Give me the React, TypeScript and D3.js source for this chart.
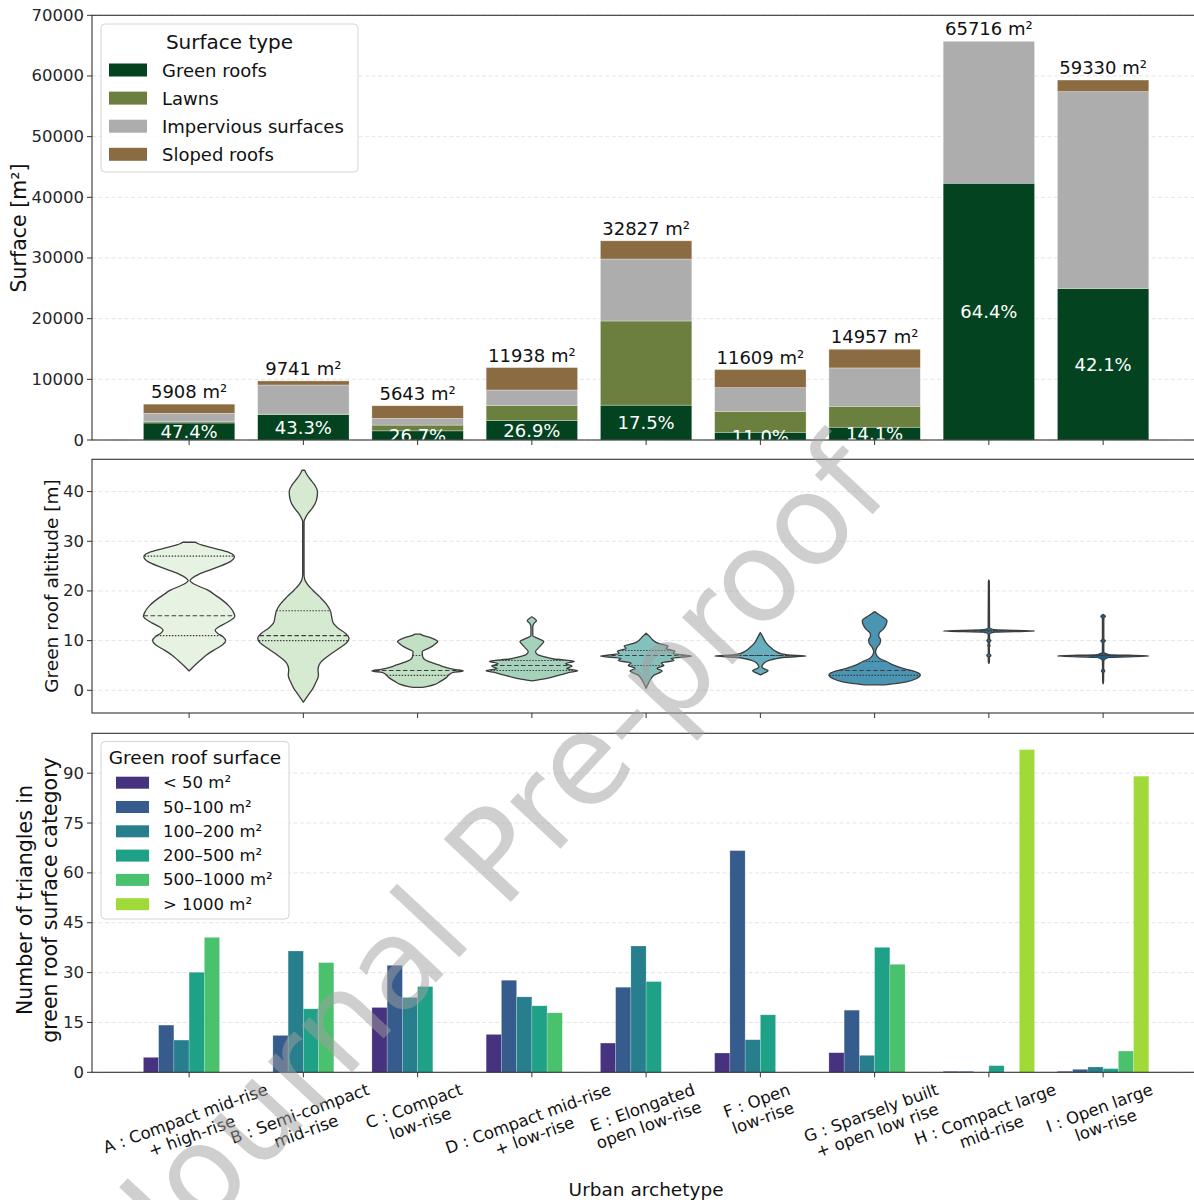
import React from 'react';
import * as d3 from 'd3';

// ---- categories -------------------------------------------------------
const archetypeLabels: string[][] = [
  ['A : Compact mid-rise', '+ high-rise'],
  ['B : Semi-compact', 'mid-rise'],
  ['C : Compact', 'low-rise'],
  ['D : Compact mid-rise', '+ low-rise'],
  ['E : Elongated', 'open low-rise'],
  ['F : Open', 'low-rise'],
  ['G : Sparsely built', '+ open low rise'],
  ['H : Compact large', 'mid-rise'],
  ['I : Open large', 'low-rise'],
];

// ---- panel 1: surface composition (m²) -------------------------------
const surfaceTypes = ['Green roofs', 'Lawns', 'Impervious surfaces', 'Sloped roofs'];
const surfaceColors = ['#03431f', '#6b803e', '#adadad', '#8b6c42'];
const greenRoofArea = [2800, 4218, 1507, 3211, 5745, 1277, 2109, 42321, 24978];
const lawnArea = [200, 50, 950, 2500, 13870, 3450, 3450, 0, 0];
const imperviousArea = [1400, 4800, 1100, 2530, 10220, 3900, 6320, 23395, 32440];
const slopedRoofArea = [1508, 673, 2086, 3697, 2992, 2982, 3078, 0, 1912];
const surfaceTicks = [0, 10000, 20000, 30000, 40000, 50000, 60000, 70000];

// ---- panel 2: green roof altitude distributions ----------------------
// [altitude (m), relative half-width]
const altitudeProfileA: [number, number][] = [[3.9, 0], [5.0, 0.12], [6.0, 0.24], [7.1, 0.38], [8.3, 0.58], [9.2, 0.74], [10.0, 0.8], [10.8, 0.74], [11.5, 0.62], [12.1, 0.57], [12.8, 0.65], [13.7, 0.84], [14.9, 1.0], [15.9, 0.96], [17.0, 0.87], [18.2, 0.72], [19.3, 0.55], [20.2, 0.4], [21.0, 0.2], [21.6, 0.07], [22.1, 0.02], [22.6, 0.07], [23.3, 0.2], [24.2, 0.45], [24.8, 0.62], [25.9, 0.9], [26.9, 0.99], [27.9, 0.83], [28.8, 0.45], [29.5, 0.2], [29.8, 0.14]];
const altitudeProfileB: [number, number][] = [[-2.4, 0], [-0.9, 0.11], [0.4, 0.21], [1.7, 0.28], [3.0, 0.33], [4.2, 0.32], [5.5, 0.37], [6.4, 0.47], [7.3, 0.6], [8.5, 0.79], [9.6, 0.95], [10.5, 1.0], [11.4, 0.93], [12.6, 0.75], [13.6, 0.65], [14.8, 0.62], [16.0, 0.59], [17.4, 0.5], [18.8, 0.36], [20.2, 0.2], [21.3, 0.09], [22.3, 0.03], [23.3, 0.015], [34.0, 0.015], [34.8, 0.05], [35.7, 0.11], [36.7, 0.2], [38.4, 0.29], [40.0, 0.31], [41.3, 0.25], [42.6, 0.14], [43.7, 0.06], [44.3, 0.03]];
const altitudeProfileC: [number, number][] = [[0.6, 0.1], [0.8, 0.22], [1.2, 0.38], [1.8, 0.5], [2.5, 0.62], [3.2, 0.7], [3.6, 0.78], [3.9, 1.0], [4.2, 0.8], [4.6, 0.62], [5.1, 0.46], [5.6, 0.3], [6.1, 0.17], [6.8, 0.11], [7.8, 0.1], [8.3, 0.2], [8.8, 0.31], [9.4, 0.4], [9.8, 0.44], [10.3, 0.36], [10.7, 0.25], [11.1, 0.1], [11.3, 0.06]];
const altitudeProfileD: [number, number][] = [[1.9, 0], [2.4, 0.33], [3.1, 0.62], [3.6, 0.82], [3.95, 1.0], [4.35, 0.76], [4.9, 0.88], [5.35, 0.74], [5.85, 0.93], [6.3, 0.48], [6.8, 0.26], [7.2, 0.12], [7.8, 0.08], [8.5, 0.14], [9.1, 0.2], [9.8, 0.26], [10.5, 0.12], [11.0, 0.02], [12.8, 0.02], [13.5, 0.05], [14.0, 0.1], [14.5, 0.05], [14.8, 0]];
const altitudeProfileE: [number, number][] = [[0.4, 0], [1.2, 0.04], [2.1, 0.09], [3.1, 0.18], [3.9, 0.35], [4.4, 0.24], [5.0, 0.39], [5.5, 0.33], [6.0, 0.61], [6.4, 0.55], [6.9, 1.0], [7.4, 0.59], [7.9, 0.63], [8.4, 0.44], [8.9, 0.48], [9.5, 0.26], [10.1, 0.15], [10.8, 0.08], [11.5, 0]];
const altitudeProfileF: [number, number][] = [[3.1, 0], [3.5, 0.09], [3.95, 0.17], [4.4, 0.07], [4.7, 0.03], [5.1, 0.05], [5.8, 0.13], [6.3, 0.31], [6.65, 0.55], [6.9, 1.0], [7.15, 0.6], [7.4, 0.45], [7.8, 0.35], [8.5, 0.24], [9.5, 0.13], [10.6, 0.06], [11.3, 0.02], [11.6, 0]];
const altitudeProfileG: [number, number][] = [[1.1, 0.22], [1.4, 0.5], [1.7, 0.7], [2.4, 0.92], [3.1, 1.0], [3.9, 0.84], [4.4, 0.62], [5.1, 0.4], [5.8, 0.26], [6.4, 0.11], [7.1, 0.04], [7.8, 0.02], [8.6, 0.05], [9.5, 0.12], [10.2, 0.13], [10.9, 0.09], [11.5, 0.1], [12.2, 0.18], [13.2, 0.25], [14.0, 0.27], [14.8, 0.17], [15.5, 0.05], [15.8, 0.02]];
const altitudeProfileH: [number, number][] = [[5.4, 0], [5.8, 0.012], [6.6, 0.012], [7.0, 0.045], [7.4, 0.012], [8.7, 0.012], [9.0, 0.025], [9.3, 0.012], [9.7, 0.015], [10.0, 0.045], [10.3, 0.015], [11.3, 0.015], [11.7, 0.12], [11.95, 1.0], [12.2, 0.12], [12.6, 0.015], [21.8, 0.01], [22.2, 0]];
const altitudeProfileI: [number, number][] = [[1.3, 0], [1.8, 0.01], [3.5, 0.012], [3.9, 0.035], [4.3, 0.012], [5.9, 0.015], [6.6, 0.12], [6.9, 1.0], [7.2, 0.12], [7.7, 0.015], [9.6, 0.015], [9.95, 0.05], [10.3, 0.015], [14.5, 0.015], [14.9, 0.05], [15.3, 0]];
const altitudeProfiles = [altitudeProfileA, altitudeProfileB, altitudeProfileC, altitudeProfileD, altitudeProfileE, altitudeProfileF, altitudeProfileG, altitudeProfileH, altitudeProfileI];
// [first quartile, median, third quartile]
const altitudeQuartiles: number[][] = [[11, 15, 27], [10, 11, 16], [3, 4, 7], [4, 5, 6], [5, 7, 8], [7, 7, 7], [3, 4, 5.8], [12, 12, 12], [7, 7, 7]];
const altitudeTicks = [0, 10, 20, 30, 40];

// ---- panel 3: triangle counts per green roof surface class -----------
const roofClasses = ['< 50 m²', '50–100 m²', '100–200 m²', '200–500 m²', '500–1000 m²', '> 1000 m²'];
const roofClassColors = ['#46327e', '#365c8d', '#277f8e', '#1fa187', '#4ac16d', '#a0da39'];
const countsBelow50 = [4.5, 0, 19.5, 11.4, 8.8, 5.8, 5.9, 0.3, 0.3];
const counts50to100 = [14.2, 11.1, 32.2, 27.7, 25.6, 66.7, 18.7, 0.3, 0.9];
const counts100to200 = [9.7, 36.5, 22.5, 22.7, 38.0, 9.8, 5.1, 0, 1.6];
const counts200to500 = [30.1, 19.1, 25.8, 20.0, 27.3, 17.3, 37.6, 2.0, 1.1];
const counts500to1000 = [40.6, 33.0, 0, 17.9, 0, 0, 32.5, 0, 6.4];
const countsAbove1000 = [0, 0, 0, 0, 0, 0, 0, 97.1, 89.1];
const countTicks = [0, 15, 30, 45, 60, 75, 90];

const FONT = '"DejaVu Sans", "Liberation Sans", sans-serif';
const INK = '#262626';
const SPINE = '#333333';
const GRID = '#e2e2e2';

const measureCtx = typeof document !== 'undefined' ? document.createElement('canvas').getContext('2d') : null;
function textWidth(s: string, fs: number) {
  if (!measureCtx) return s.length * fs * 0.58;
  measureCtx.font = `${fs}px "DejaVu Sans"`;
  return measureCtx.measureText(s).width;
}

function widthAt(profile: [number, number][], v: number) {
  for (let i = 1; i < profile.length; i++) {
    const [a0, w0] = profile[i - 1];
    const [a1, w1] = profile[i];
    if (v >= a0 && v <= a1) return w0 + ((v - a0) / (a1 - a0 || 1)) * (w1 - w0);
  }
  return 0;
}

export default function App() {
  const W = 1194;
  const H = 1200;
  const n = archetypeLabels.length;
  const left = 92;
  const step = 114.25;
  const x = d3.scaleLinear().domain([-0.85, n - 1 + 0.85]).range([left, left + (n - 1 + 1.7) * step]);
  const right = x.range()[1];
  const band = x(1) - x(0);
  const idx = d3.range(n);

  const ySurf = d3.scaleLinear().domain([0, 70000]).range([440, 15.3]);
  const yAlt = d3.scaleLinear().domain([-4.57, 46.5]).range([713, 459.3]);
  const yCnt = d3.scaleLinear().domain([0, 102]).range([1072.3, 733.3]);

  // stacked surfaces
  const surfaceRows = idx.map((i) => ({
    g: greenRoofArea[i], l: lawnArea[i], p: imperviousArea[i], s: slopedRoofArea[i],
  }));
  const stack = d3.stack<any>().keys(['g', 'l', 'p', 's'])(surfaceRows);
  const totals = surfaceRows.map((r) => r.g + r.l + r.p + r.s);

  // viridis-coloured grouped counts
  const countSeries = [countsBelow50, counts50to100, counts100to200, counts200to500, counts500to1000, countsAbove1000];
  const sub = d3.scaleBand<number>().domain(d3.range(countSeries.length)).range([-0.4 * band, 0.4 * band]).padding(0);

  // violin palette: GnBu, desaturated
  const violinColors = idx.map((i) => {
    const c = d3.hsl(d3.interpolateGnBu((i + 1) / 10));
    c.s *= 0.75;
    return c.formatHex();
  });
  const halfMax = 0.4 * band;
  const violinPath = (cx: number, prof: [number, number][]) =>
    d3.area<[number, number]>()
      .y((d) => yAlt(d[0]))
      .x0((d) => cx - d[1] * halfMax)
      .x1((d) => cx + d[1] * halfMax)
      .curve(d3.curveMonotoneY)(prof.slice().reverse()) || '';

  const tickFs = 16.5;

  const yAxis = (scale: d3.ScaleLinear<number, number>, ticks: number[], key: string) => (
    <g key={key}>
      {ticks.map((t) => (
        <g key={t}>
          <line x1={left} x2={right} y1={scale(t)} y2={scale(t)} stroke={GRID} strokeWidth={0.9} strokeDasharray="4,2.5" />
          <line x1={left - 5} x2={left} y1={scale(t)} y2={scale(t)} stroke={SPINE} strokeWidth={1} />
          <text x={left - 8} y={scale(t)} textAnchor="end" dominantBaseline="central" fontSize={tickFs} fill={INK}>{t}</text>
        </g>
      ))}
    </g>
  );

  const xTicks = (yb: number, key: string) => (
    <g key={key}>
      {idx.map((i) => (
        <line key={i} x1={x(i)} x2={x(i)} y1={yb} y2={yb + 5} stroke={SPINE} strokeWidth={1} />
      ))}
    </g>
  );

  const frame = (top: number, bottom: number, key: string) => (
    <rect key={key} x={left} y={top} width={right - left} height={bottom - top} fill="none" stroke={SPINE} strokeWidth={1.1} />
  );

  // rotated, two-line category labels (bbox centred on the tick, top below it)
  const rot = 20;
  const rad = (rot * Math.PI) / 180;
  const lblFs = 16.5;
  const asc = 0.76 * lblFs;
  const desc = 0.24 * lblFs;
  const pitch = 1.12 * lblFs;
  const labelTop = 1072.3 + 10;

  // watermark
  const wmFs = 126;
  const wmAngle = 47;

  return (
    <svg width={W} height={H} viewBox={`0 0 ${W} ${H}`} style={{ position: 'absolute', left: 0, top: 0, background: '#fff' }} fontFamily={FONT}>
      <defs>
        <clipPath id="surfClip">
          <rect x={left} y={15.3} width={right - left} height={440 - 15.3} />
        </clipPath>
      </defs>
      <rect x={0} y={0} width={W} height={H} fill="#fff" />

      {/* ---------- panel 1 ---------- */}
      {yAxis(ySurf, surfaceTicks, 'ys')}
      {stack.map((layer, k) => (
        <g key={k} fill={surfaceColors[k]}>
          {layer.map((d, i) => (
            <rect key={i} x={x(i) - 0.4 * band} width={0.8 * band} y={ySurf(d[1])} height={Math.max(0, ySurf(d[0]) - ySurf(d[1]))} stroke="#ffffff" strokeOpacity={0.5} strokeWidth={0.6} />
          ))}
        </g>
      ))}
      {idx.map((i) => (
        <text key={i} x={x(i)} y={ySurf(totals[i]) - 6} textAnchor="middle" fontSize={18} fill="#111">{`${totals[i]} m²`}</text>
      ))}
      <g clipPath="url(#surfClip)">
        {idx.map((i) => (
          <text key={i} x={x(i)} y={ySurf(greenRoofArea[i] / 2)} textAnchor="middle" dominantBaseline="central" fontSize={18} fill="#fff">
            {`${((greenRoofArea[i] / totals[i]) * 100).toFixed(1)}%`}
          </text>
        ))}
      </g>
      {xTicks(440, 'xt1')}
      {frame(15.3, 440, 'f1')}
      <text transform={`translate(19,228) rotate(-90)`} textAnchor="middle" dominantBaseline="central" fontSize={20.5} fill="#111">Surface [m²]</text>

      <g>
        <rect x={101} y={24} width={257} height={148} rx={4} fill="#fff" fillOpacity={0.8} stroke="#d4d4d4" strokeWidth={1} />
        <text x={229.5} y={42} textAnchor="middle" dominantBaseline="central" fontSize={20} fill="#111">Surface type</text>
        {surfaceTypes.map((s, k) => (
          <g key={s}>
            <rect x={109} y={70 + k * 28.1 - 6.5} width={38} height={13} fill={surfaceColors[k]} />
            <text x={162} y={70 + k * 28.1} dominantBaseline="central" fontSize={18} fill="#111">{s}</text>
          </g>
        ))}
      </g>

      {/* ---------- panel 2 ---------- */}
      {yAxis(yAlt, altitudeTicks, 'ya')}
      {idx.map((i) => {
        const cx = x(i);
        const prof = altitudeProfiles[i];
        const [q1, q2, q3] = altitudeQuartiles[i];
        return (
          <g key={i}>
            <path d={violinPath(cx, prof)} fill={violinColors[i]} stroke="#3d3d3d" strokeWidth={1.3} strokeLinejoin="round" />
            {[q1, q2, q3].map((q, k) => {
              const w = widthAt(prof, q) * halfMax;
              return (
                <line key={k} x1={cx - w} x2={cx + w} y1={yAlt(q)} y2={yAlt(q)} stroke="#3d3d3d" strokeWidth={1.1}
                  strokeDasharray={k === 1 ? '4.5,2.5' : '1.5,1.5'} />
              );
            })}
          </g>
        );
      })}
      {xTicks(713, 'xt2')}
      {frame(459.3, 713, 'f2')}
      <text transform={`translate(51,586) rotate(-90)`} textAnchor="middle" dominantBaseline="central" fontSize={18.5} fill="#111">Green roof altitude [m]</text>

      {/* ---------- panel 3 ---------- */}
      {yAxis(yCnt, countTicks, 'yc')}
      {countSeries.map((series, k) => (
        <g key={k} fill={roofClassColors[k]}>
          {series.map((v, i) => (v > 0 ? (
            <rect key={i} x={x(i) + (sub(k) as number)} width={sub.bandwidth()} y={yCnt(v)} height={yCnt(0) - yCnt(v)} stroke="#ffffff" strokeOpacity={0.35} strokeWidth={0.6} />
          ) : null))}
        </g>
      ))}
      {xTicks(1072.3, 'xt3')}
      {frame(733.3, 1072.3, 'f3')}
      <text transform={`translate(25,900) rotate(-90)`} textAnchor="middle" dominantBaseline="central" fontSize={20.5} fill="#111">Number of triangles in</text>
      <text transform={`translate(50,900) rotate(-90)`} textAnchor="middle" dominantBaseline="central" fontSize={20.5} fill="#111">green roof surface category</text>

      <g>
        <rect x={101} y={741.5} width={188} height={177.5} rx={4} fill="#fff" fillOpacity={0.8} stroke="#d4d4d4" strokeWidth={1} />
        <text x={195} y={757} textAnchor="middle" dominantBaseline="central" fontSize={18.5} fill="#111">Green roof surface</text>
        {roofClasses.map((s, k) => (
          <g key={s}>
            <rect x={116} y={782.7 + k * 24.3 - 6} width={33} height={12} fill={roofClassColors[k]} />
            <text x={163} y={782.7 + k * 24.3} dominantBaseline="central" fontSize={16.5} fill="#111">{s}</text>
          </g>
        ))}
      </g>

      {/* category labels */}
      {idx.map((i) => {
        const lines = archetypeLabels[i];
        const wMax = d3.max(lines, (l) => textWidth(l, lblFs)) || 0;
        const hBlock = pitch * (lines.length - 1) + asc + desc;
        const hRot = wMax * Math.sin(rad) + hBlock * Math.cos(rad);
        const cy = labelTop + hRot / 2;
        return (
          <g key={i} transform={`translate(${x(i)},${cy}) rotate(${-rot})`}>
            {lines.map((l, j) => (
              <text key={j} x={0} y={-hBlock / 2 + asc + j * pitch} textAnchor="middle" fontSize={lblFs} fill="#111">{l}</text>
            ))}
          </g>
        );
      })}
      <text x={(left + right) / 2} y={1189} textAnchor="middle" dominantBaseline="central" fontSize={18.5} fill="#111">Urban archetype</text>

      {/* watermark */}
      <text transform={`translate(178,1259) rotate(${-wmAngle})`} fontSize={wmFs} fill="rgb(160,160,160)" fillOpacity={0.5}>Journal Pre-proof</text>
    </svg>
  );
}
